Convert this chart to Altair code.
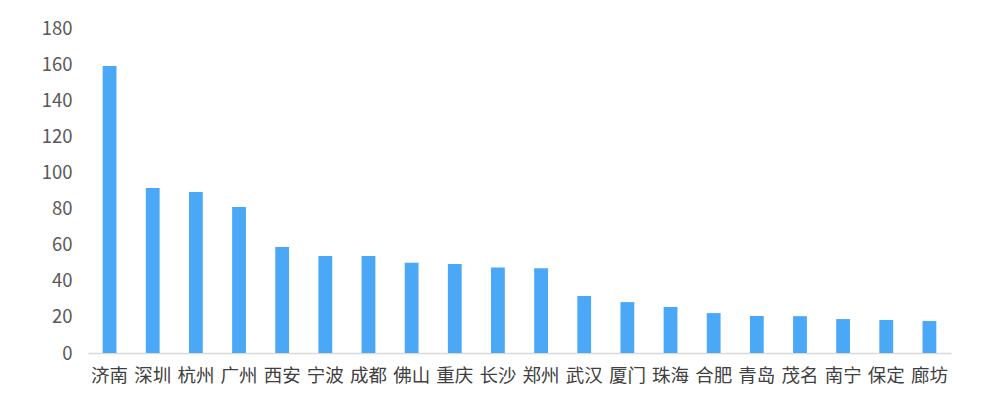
import altair as alt
import pandas as pd

cities = ["济南", "深圳", "杭州", "广州", "西安", "宁波", "成都", "佛山", "重庆", "长沙",
          "郑州", "武汉", "厦门", "珠海", "合肥", "青岛", "茂名", "南宁", "保定", "廊坊"]
values = [159, 91.4, 89.2, 80.8, 58.7, 53.7, 53.7, 50.0, 49.3, 47.3,
          47.0, 31.6, 28.2, 25.5, 22.1, 20.5, 20.4, 18.8, 18.3, 17.7]

df = pd.DataFrame({"city": cities, "value": values})

font = "Noto Sans CJK SC"

chart = alt.Chart(df).mark_bar(color="#4AA8F6").encode(
    x=alt.X("city:N", sort=cities, title=None,
            scale=alt.Scale(paddingInner=0.68, paddingOuter=0.34),
            axis=alt.Axis(labelAngle=0, ticks=False, domainColor="#D9D9D9", domainWidth=1.5,
                          labelFontSize=18.5, labelColor="#404040", labelFont=font,
                          labelPadding=13)),
    y=alt.Y("value:Q", title=None,
            scale=alt.Scale(domain=[0, 180]),
            axis=alt.Axis(values=list(range(0, 181, 20)), grid=False, domain=False, ticks=False,
                          labelFontSize=18.5, labelColor="#595959", labelFont=font,
                          labelPadding=16)),
).properties(
    width=863, height=325,
    autosize=alt.AutoSizeParams(type="none"),
    padding={"left": 80, "top": 20, "right": 20, "bottom": 40},
).configure_view(stroke=None)

chart.save("out.html", embed_options={"renderer": "svg", "actions": False})
